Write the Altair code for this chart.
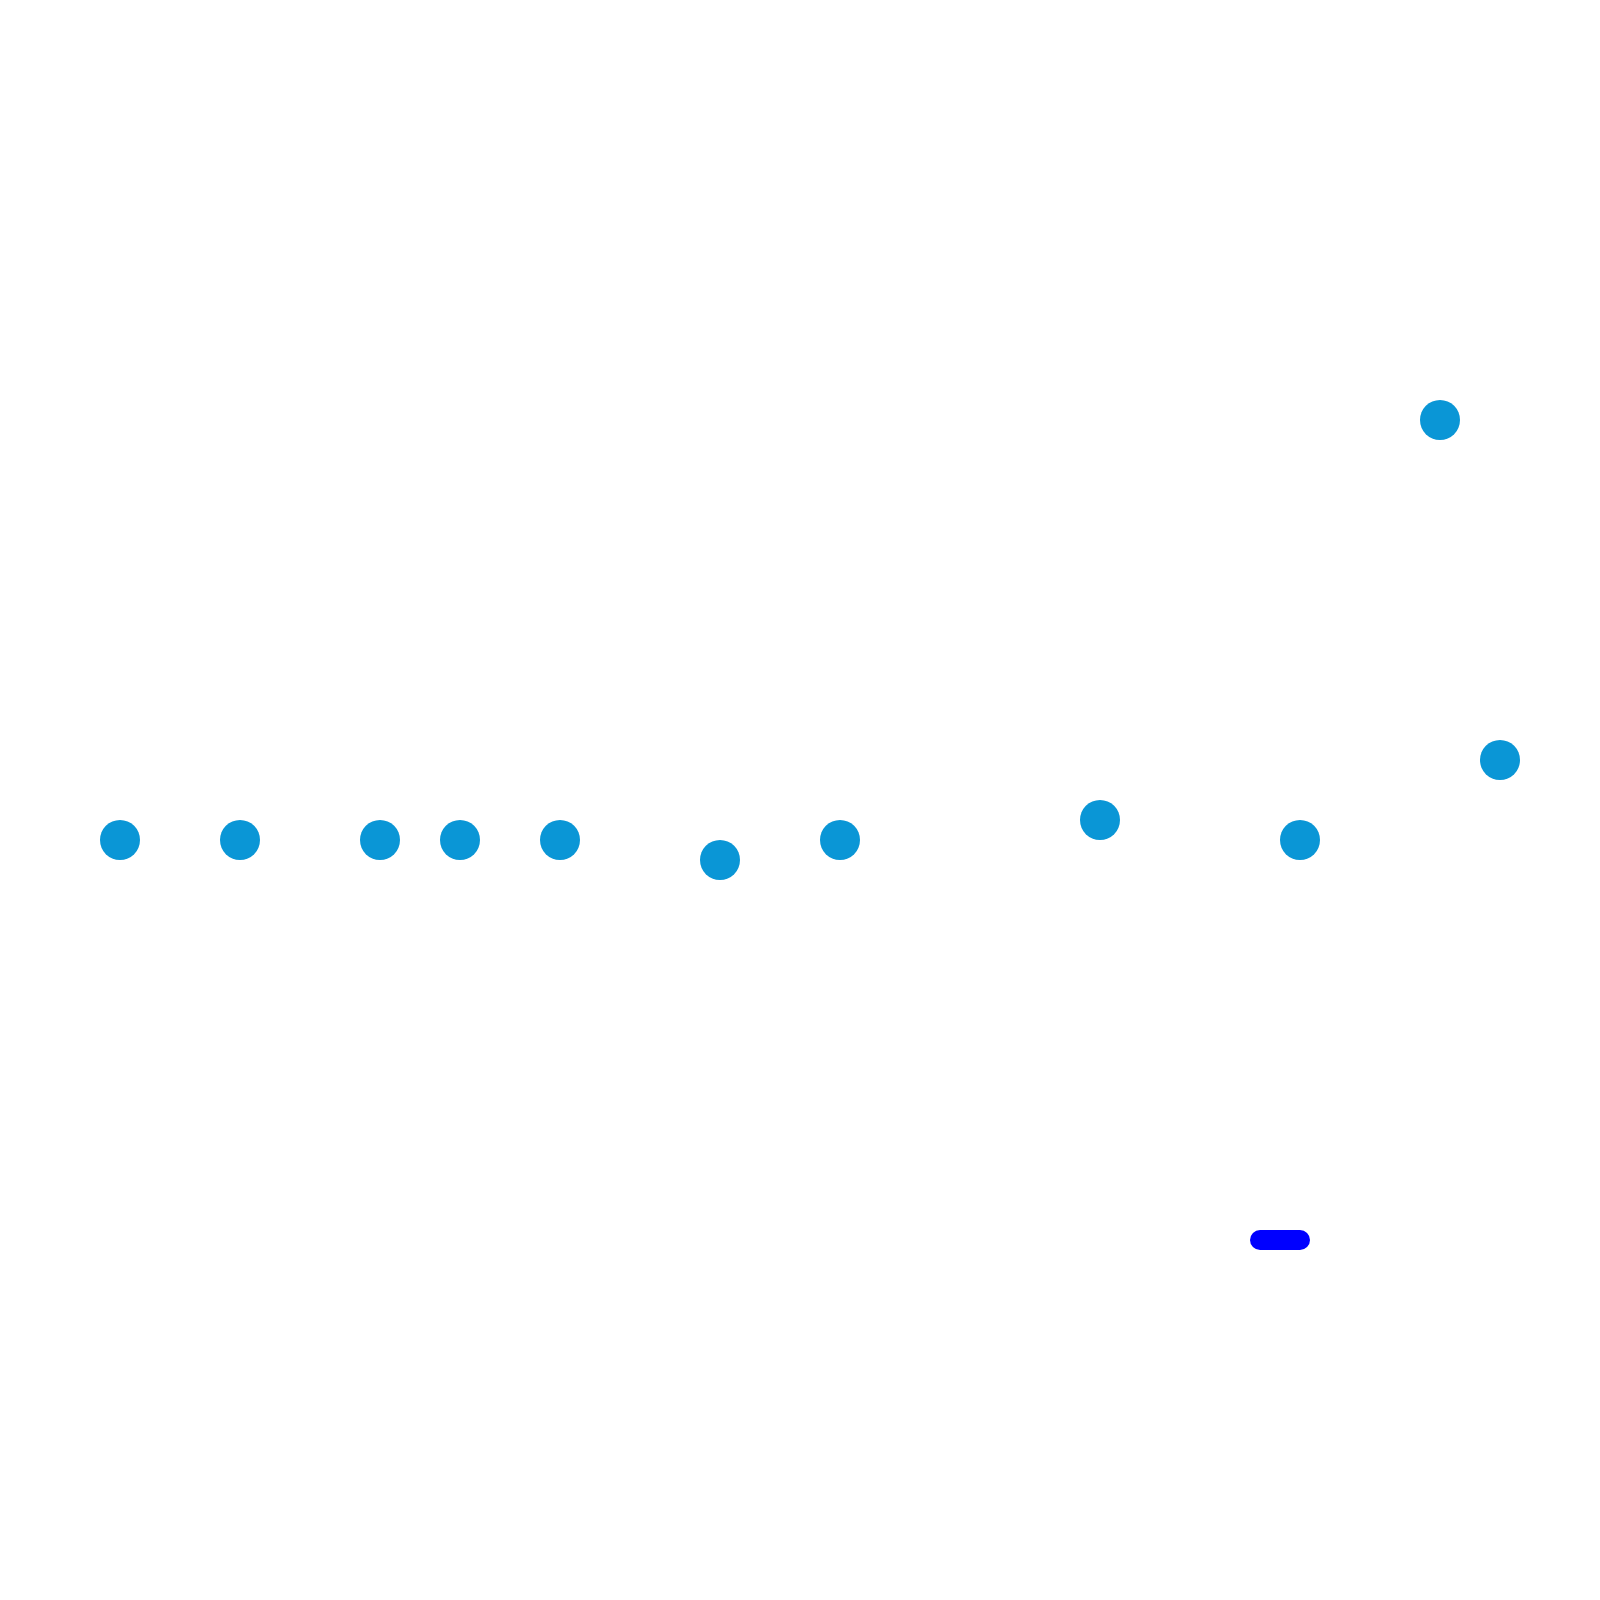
import altair as alt
import pandas as pd

# point series
xs = [6, 12, 19, 23, 28, 36, 42, 55, 65, 72, 75]
ys = [38, 38, 38, 38, 38, 37, 38, 39, 38, 59, 42]

# segment
seg_x = [63]
seg_x2 = [65]
seg_y = [18]

pts = pd.DataFrame({"x": xs, "y": ys})
seg = pd.DataFrame({"x": seg_x, "x2": seg_x2, "y": seg_y})

xscale = alt.Scale(domain=[0.4, 79.6], nice=False, zero=False)
yscale = alt.Scale(domain=[0.4, 79.6], nice=False, zero=False)

points = alt.Chart(pts).mark_circle(size=1600, opacity=1, color="#0A96D6").encode(
    x=alt.X("x:Q", scale=xscale, axis=None),
    y=alt.Y("y:Q", scale=yscale, axis=None),
)

rule = alt.Chart(seg).mark_rule(strokeWidth=20, strokeCap="round", color="#0000FF").encode(
    x=alt.X("x:Q", scale=xscale, axis=None),
    x2="x2:Q",
    y=alt.Y("y:Q", scale=yscale, axis=None),
)

chart = alt.layer(points, rule).properties(
    width=1584, height=1584, padding=0, background="white"
).configure_view(stroke=None)

chart.save("out.html", embed_options={"renderer": "svg", "actions": False})
